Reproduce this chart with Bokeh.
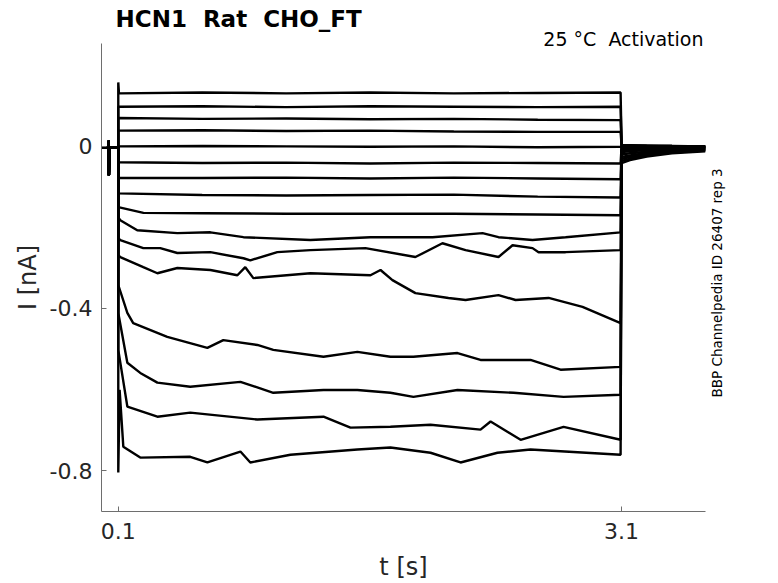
import math
from bokeh.plotting import figure
from bokeh.models import FixedTicker, LinearAxis, Range1d, Title
from bokeh.embed import file_html
from bokeh.resources import INLINE

# ---- data ----
pre_t = [0.0, 0.041, 0.043, 0.044, 0.047, 0.1]
pre_i = [-0.002, -0.002, 0.014, -0.071, -0.002, -0.002]

grid_t = [0.1, 0.6, 1.1, 1.6, 2.1, 2.6, 3.094]

t1 = [0.1, 0.104, 0.6, 1.1, 1.6, 2.1, 2.6, 3.094]
i1 = [0.158, 0.131, 0.133, 0.131, 0.133, 0.131, 0.132, 0.133]
i2 = [0.098, 0.099, 0.097, 0.099, 0.098, 0.097, 0.098]
i3 = [0.070, 0.068, 0.069, 0.067, 0.068, 0.066, 0.065]
i4 = [0.039, 0.040, 0.038, 0.039, 0.037, 0.036, 0.036]
i5 = [0.000, 0.001, 0.000, -0.001, 0.000, -0.002, -0.001]
i6 = [-0.039, -0.041, -0.040, -0.042, -0.040, -0.041, -0.042]
i7 = [-0.078, -0.078, -0.077, -0.079, -0.077, -0.079, -0.081]
i8 = [-0.116, -0.120, -0.121, -0.120, -0.119, -0.124, -0.126]

t9 = [0.1, 0.25, 0.6, 1.1, 1.6, 2.1, 2.6, 3.094]
i9 = [-0.150, -0.164, -0.165, -0.166, -0.166, -0.166, -0.168, -0.170]

t10 = [0.1, 0.112, 0.213, 0.452, 0.649, 0.846, 1.245, 1.603, 1.973, 2.271, 2.366, 2.569, 2.766, 3.094]
i10 = [-0.175, -0.182, -0.207, -0.214, -0.212, -0.224, -0.231, -0.224, -0.224, -0.214, -0.224, -0.231, -0.224, -0.212]

t11 = [0.1, 0.112, 0.249, 0.350, 0.452, 0.649, 0.846, 0.887, 1.048, 1.245, 1.573, 1.871, 2.032, 2.170, 2.366, 2.450, 2.569, 2.605, 2.766, 3.094]
i11 = [-0.226, -0.231, -0.251, -0.251, -0.263, -0.261, -0.276, -0.281, -0.261, -0.256, -0.251, -0.273, -0.239, -0.256, -0.273, -0.244, -0.251, -0.261, -0.261, -0.256]

t12 = [0.1, 0.112, 0.249, 0.333, 0.452, 0.649, 0.810, 0.857, 0.905, 1.245, 1.603, 1.663, 1.734, 1.871, 2.068, 2.170, 2.366, 2.468, 2.665, 2.867, 3.094]
i12 = [-0.268, -0.273, -0.298, -0.313, -0.300, -0.305, -0.318, -0.298, -0.325, -0.313, -0.318, -0.305, -0.330, -0.362, -0.374, -0.379, -0.367, -0.379, -0.374, -0.396, -0.436]

t13 = [0.1, 0.154, 0.189, 0.392, 0.631, 0.726, 0.929, 1.024, 1.323, 1.525, 1.722, 1.859, 2.122, 2.259, 2.557, 2.736, 3.094]
i13 = [-0.342, -0.411, -0.436, -0.470, -0.497, -0.478, -0.490, -0.502, -0.519, -0.507, -0.519, -0.519, -0.510, -0.527, -0.527, -0.551, -0.544]

t14 = [0.1, 0.154, 0.231, 0.333, 0.529, 0.828, 1.024, 1.323, 1.525, 1.722, 1.859, 2.122, 2.456, 2.754, 3.094]
i14 = [-0.411, -0.534, -0.559, -0.583, -0.593, -0.581, -0.608, -0.601, -0.601, -0.608, -0.618, -0.601, -0.608, -0.618, -0.613]

t15 = [0.1, 0.154, 0.333, 0.529, 0.929, 1.323, 1.484, 1.722, 1.961, 2.259, 2.319, 2.498, 2.754, 3.094]
i15 = [-0.502, -0.642, -0.667, -0.657, -0.674, -0.667, -0.694, -0.692, -0.687, -0.699, -0.679, -0.724, -0.692, -0.724]

t16 = [0.1, 0.108, 0.130, 0.231, 0.529, 0.631, 0.828, 0.887, 1.126, 1.525, 1.722, 1.961, 2.140, 2.360, 2.557, 3.094]
i16 = [-0.805, -0.601, -0.741, -0.768, -0.766, -0.780, -0.753, -0.780, -0.761, -0.748, -0.743, -0.756, -0.780, -0.756, -0.748, -0.761]

tail_t = [3.1, 3.15, 3.25, 3.4, 3.6]
tail_a = [0.003, 0.003, 0.002, 0.002, 0.001, 0.000, -0.002, -0.004, -0.007, -0.010, -0.014, -0.020, -0.026, -0.031, -0.036, -0.041]
tail_b = [0.003, 0.002, 0.002, 0.001, 0.001, -0.001, -0.002, -0.004, -0.006, -0.009, -0.012, -0.017, -0.022, -0.026, -0.030, -0.034]
tail_c = [0.002, 0.002, 0.001, 0.001, 0.000, -0.001, -0.002, -0.003, -0.005, -0.007, -0.009, -0.013, -0.016, -0.019, -0.022, -0.025]
tail_d = [0.001, 0.001, 0.001, 0.000, 0.000, -0.001, -0.002, -0.003, -0.004, -0.005, -0.007, -0.009, -0.011, -0.013, -0.015, -0.017]
tail_e = [0.000, 0.000, 0.000, -0.001, -0.001, -0.002, -0.002, -0.003, -0.004, -0.005, -0.006, -0.007, -0.008, -0.009, -0.010, -0.012]

x_ticks = [0.1, 3.1]
y_ticks = [-0.8, -0.4, 0]
y_tick_labels = ["-0.8", "-0.4", "0"]

NB = "\u00a0"
title_text = "HCN1 " + NB + "Rat " + NB + "CHO_FT"
cond_text = "25 °C " + NB + "Activation"
side_text = "BBP Channelpedia ID 26407 rep 3"
side_anchor = -0.6195   # current level where the side note begins
x_label = "t [s]"
y_label = "I [nA]"

steps = [
    (t1, i1), (grid_t, i2), (grid_t, i3), (grid_t, i4), (grid_t, i5),
    (grid_t, i6), (grid_t, i7), (grid_t, i8), (t9, i9), (t10, i10),
    (t11, i11), (t12, i12), (t13, i13), (t14, i14), (t15, i15), (t16, i16),
]

# ---- figure ----
FONT = "DejaVu Sans"
TXT = "#262626"
AX = "#6e6e6e"

p = figure(width=778, height=583,
           x_range=Range1d(0, 3.6), y_range=Range1d(-0.901, 0.254),
           output_backend="svg", toolbar_location=None,
           min_border_left=101, min_border_right=73,
           min_border_top=43, min_border_bottom=71)
p.outline_line_color = None
p.xgrid.visible = False
p.ygrid.visible = False
p.background_fill_color = "white"
p.border_fill_color = "white"
p.title.text = ""

for k, (ts, cs) in enumerate(steps):
    xs = pre_t + ts + tail_t
    ys = pre_i + cs + [tail_a[k], tail_b[k], tail_c[k], tail_d[k], tail_e[k]]
    p.line(xs, ys, line_color="black", line_width=2.4)

for ax in (p.xaxis[0], p.yaxis[0]):
    ax.axis_line_color = AX
    ax.major_tick_line_color = AX
    ax.major_tick_in = 5
    ax.major_tick_out = 0
    ax.minor_tick_in = 0
    ax.minor_tick_out = 0
    ax.major_label_text_font = FONT
    ax.major_label_text_font_size = "22px"
    ax.major_label_text_color = TXT
    ax.axis_label_text_font = FONT
    ax.axis_label_text_font_size = "24px"
    ax.axis_label_text_font_style = "normal"
    ax.axis_label_text_color = TXT

p.xaxis.ticker = FixedTicker(ticks=x_ticks)
p.xaxis.major_label_overrides = {v: str(v) for v in x_ticks}
p.xaxis.major_label_standoff = 11
p.xaxis.axis_label = x_label
p.xaxis.axis_label_standoff = 11
p.yaxis.ticker = FixedTicker(ticks=y_ticks)
p.yaxis.major_label_overrides = {v: s for v, s in zip(y_ticks, y_tick_labels)}
p.yaxis.major_label_standoff = 9
p.yaxis.axis_label = y_label
p.yaxis.axis_label_standoff = 5

# titles above the frame: the first added sits nearest the frame
cond_title = Title(text=cond_text, align="right", offset=2, text_font=FONT,
                   text_font_size="19px", text_font_style="normal",
                   text_color="black", standoff=-12)
main_title = Title(text=title_text, align="left", offset=14, text_font=FONT,
                   text_font_size="23px", text_font_style="bold",
                   text_color="black", standoff=-1)
p.add_layout(cond_title, "above")
p.add_layout(main_title, "above")

# side note on the right, reading bottom to top (drawn as a rotated tick label)
side_axis = LinearAxis(ticker=FixedTicker(ticks=[side_anchor]),
                       major_label_overrides={side_anchor: side_text},
                       major_label_orientation=math.pi / 2,
                       axis_line_color=None,
                       major_tick_line_color=None, minor_tick_line_color=None,
                       major_tick_in=0, major_tick_out=0,
                       minor_tick_in=0, minor_tick_out=0,
                       major_label_standoff=12,
                       major_label_text_font=FONT,
                       major_label_text_font_size="13.5px",
                       major_label_text_color="black")
p.add_layout(side_axis, "right")

open("out.html", "w").write(file_html(p, INLINE))
